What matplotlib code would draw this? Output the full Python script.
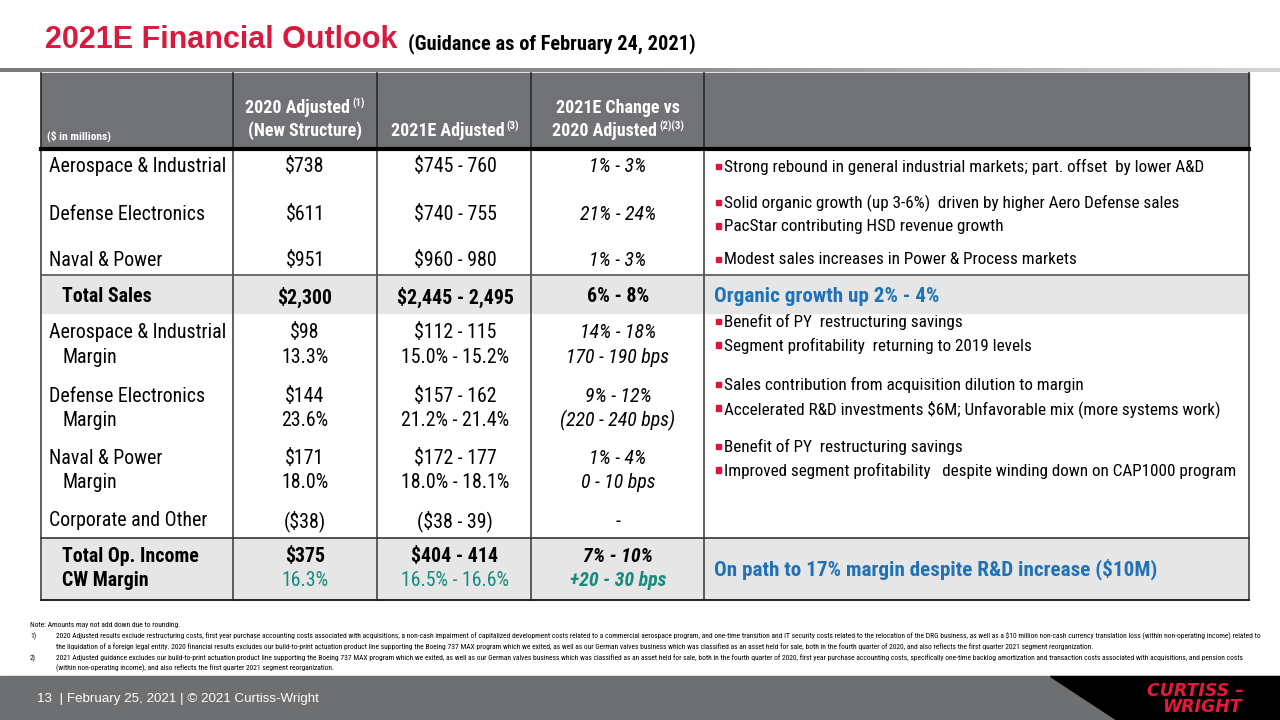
import matplotlib
matplotlib.use("Agg")
import matplotlib.pyplot as plt
from matplotlib.patches import Rectangle, Polygon
import numpy as np

NARROW = ['Roboto Condensed', 'Liberation Sans', 'DejaVu Sans']
ARIAL = ['Liberation Sans', 'DejaVu Sans']
plt.rcParams['font.family'] = NARROW

# Datos de la tabla
title = "2021E Financial Outlook"
subtitle = "(Guidance as of February 24, 2021)"

seg_names = ["Aerospace & Industrial", "Defense Electronics", "Naval & Power"]
sales_2020 = ["$738", "$611", "$951"]
sales_2021 = ["$745 - 760", "$740 - 755", "$960 - 980"]
sales_chg = ["1% - 3%", "21% - 24%", "1% - 3%"]
sales_notes = [["Strong rebound in general industrial markets; part. offset  by lower A&D"],
               ["Solid organic growth (up 3-6%)  driven by higher Aero Defense sales",
                "PacStar contributing HSD revenue growth"],
               ["Modest sales increases in Power & Process markets"]]

total_sales = ["Total Sales", "$2,300", "$2,445 - 2,495", "6% - 8%"]
total_sales_note = "Organic growth up 2% - 4%"

op_2020 = ["$98", "$144", "$171"]
op_2021 = ["$112 - 115", "$157 - 162", "$172 - 177"]
op_chg = ["14% - 18%", "9% - 12%", "1% - 4%"]
mrg_2020 = ["13.3%", "23.6%", "18.0%"]
mrg_2021 = ["15.0% - 15.2%", "21.2% - 21.4%", "18.0% - 18.1%"]
mrg_chg = ["170 - 190 bps", "(220 - 240 bps)", "0 - 10 bps"]
op_notes = [["Benefit of PY  restructuring savings",
             "Segment profitability  returning to 2019 levels"],
            ["Sales contribution from acquisition dilution to margin",
             "Accelerated R&D investments $6M; Unfavorable mix (more systems work)"],
            ["Benefit of PY  restructuring savings",
             "Improved segment profitability   despite winding down on CAP1000 program"]]

corporate = ["Corporate and Other", "($38)", "($38 - 39)", "-"]
total_op = ["Total Op. Income", "$375", "$404 - 414", "7% - 10%"]
cw_margin = ["CW Margin", "16.3%", "16.5% - 16.6%", "+20 - 30 bps"]
total_op_note = "On path to 17% margin despite R&D increase ($10M)"

footnotes = [
    ("", "Note: Amounts may not add down due to rounding."),
    ("1)", "2020 Adjusted results exclude restructuring costs, first year purchase accounting costs associated with acquisitions, a non-cash impairment of capitalized development costs related to a commercial aerospace program, and one-time transition and IT security costs related to the relocation of the DRG business, as well as a $10 million non-cash currency translation loss (within non-operating income) related to"),
    ("", "the liquidation of a foreign legal entity. 2020 financial results excludes our build-to-print actuation product line supporting the Boeing 737 MAX program which we exited, as well as our German valves business which was classified as an asset held for sale, both in the fourth quarter of 2020, and also reflects the first quarter 2021 segment reorganization."),
    ("2)", "2021 Adjusted guidance excludes our build-to-print actuation product line supporting the Boeing 737 MAX program which we exited, as well as our German valves business which was classified as an asset held for sale, both in the fourth quarter of 2020, first year purchase accounting costs, specifically one-time backlog amortization and transaction costs associated with acquisitions, and pension costs"),
    ("", "(within non-operating income), and also reflects the first quarter 2021 segment reorganization."),
]
footer = "13  | February 25, 2021 | \u00a9 2021 Curtiss-Wright"

# Colores
RED = "#d71a3e"
HDR = "#717275"
LIGHT = "#e6e6e6"
BLUE = "#1f72b8"
TEAL = "#178a7c"

fig = plt.figure(figsize=(12.8, 7.2), dpi=100)
ax = fig.add_axes([0, 0, 1, 1])
ax.set_xlim(0, 1280)
ax.set_ylim(720, 0)
ax.axis("off")
renderer = fig.canvas.get_renderer()


def width(t):
    return t.get_window_extent(renderer).width


def fit(s, target, **kw):
    # tamaño de letra para que el texto ocupe el ancho medido en la diapositiva
    t = ax.text(0, 0, s, fontsize=10, parse_math=False, **kw)
    w = width(t)
    t.remove()
    return 10 * target / w


FS = fit("Aerospace & Industrial", 176)
FSB = fit(sales_notes[0][0], 479)
FSH = fit("(New Structure)", 114, fontweight="bold")
FSN = fit(total_sales_note, 226, fontweight="bold")
FSF = fit(footnotes[1][1], 1206)


def txt(x, y, s, **kw):
    kw.setdefault("fontsize", FS)
    kw.setdefault("va", "center")
    return ax.text(x, y, s, parse_math=False, **kw)


def with_sup(xc, y, main, sup, **kw):
    t1 = txt(0, y, main, ha="left", **kw)
    t2 = txt(0, y - 5, sup, ha="left", **dict(kw, fontsize=kw["fontsize"] * 0.6))
    w1, w2 = width(t1), width(t2)
    x0 = xc - (w1 + w2 + 2) / 2
    t1.set_x(x0)
    t2.set_x(x0 + w1 + 2)


# Titulo
t = txt(45, 48, title, fontsize=fit(title, 352, fontweight="bold", family=ARIAL),
        fontweight="bold", color=RED, ha="left", va="baseline", family=ARIAL)
txt(408, 49, subtitle, fontsize=fit(subtitle, 287, fontweight="bold"), fontweight="bold",
    color="black", ha="left", va="baseline")

# Linea gris con degradado
grad = np.linspace(0, 1, 256).reshape(1, -1)
ax.imshow(grad, extent=(0, 1280, 72, 68), cmap=matplotlib.colors.LinearSegmentedColormap.from_list(
    "g", ["#7a7a7a", "#8a8a8a", "#d5d5d5"]), aspect="auto", zorder=1)
ax.set_xlim(0, 1280)
ax.set_ylim(720, 0)

L, R = 41, 1249
cols = [L, 233, 377, 531, 704, R]
c1, c2, c3, cn = 305, 455, 618, 716

# Cabecera y fondos
ax.add_patch(Rectangle((L, 73), R - L, 76, color=HDR, zorder=1))
ax.add_patch(Rectangle((L, 275), R - L, 38, color=LIGHT, zorder=1))
ax.add_patch(Rectangle((L, 538), R - L, 62, color=LIGHT, zorder=1))
for x in cols:
    ax.plot([x, x], [73, 149], color="#2a2a2a", lw=1.2, zorder=2)
    ax.plot([x, x], [149, 600], color="#444444", lw=1.2, zorder=2)
ax.plot([L, R], [149, 149], color="black", lw=3, zorder=3)
ax.plot([L, R], [275, 275], color="#555555", lw=1.2, zorder=3)
ax.plot([L, R], [538, 538], color="#333333", lw=1.2, zorder=3)
ax.plot([L, R], [600, 600], color="#222222", lw=1.4, zorder=3)

hw = dict(color="white", fontweight="bold", fontsize=FSH)
txt(47, 136, "($ in millions)", ha="left", **dict(hw, fontsize=fit("($ in millions)", 62)))
with_sup(c1, 108, "2020 Adjusted", "(1)", **hw)
txt(c1, 131, "(New Structure)", ha="center", **hw)
with_sup(c2, 131, "2021E Adjusted", "(3)", **hw)
txt(c3, 108, "2021E Change vs", ha="center", **hw)
with_sup(c3, 131, "2020 Adjusted", "(2)(3)", **hw)


def notes(y, lines, gap=23.5):
    n = len(lines)
    for i, s in enumerate(lines):
        yy = y + (i - (n - 1) / 2) * gap
        ax.add_patch(Rectangle((cn, yy - 3.5), 5, 5.5, color="#e0143c", zorder=4))
        txt(cn + 8, yy, s, fontsize=FSB, ha="left")


# Ventas por segmento
sales_y = [167, 215, 260]
for i, y in enumerate(sales_y):
    txt(49, y, seg_names[i], ha="left")
    txt(c1, y, sales_2020[i], ha="center")
    txt(c2, y, sales_2021[i], ha="center")
    txt(c3, y, sales_chg[i], ha="center", style="italic")
    notes(y, sales_notes[i])

y = 297
txt(62, y, total_sales[0], ha="left", fontweight="bold")
txt(c1, y, total_sales[1], ha="center", fontweight="bold")
txt(c2, y, total_sales[2], ha="center", fontweight="bold")
txt(c3, y, total_sales[3], ha="center", fontweight="bold")
txt(cn - 2, y, total_sales_note, ha="left", fontweight="bold", color=BLUE, fontsize=FSN)

# Resultado operativo
op_y = [333, 396, 458]
for i, y in enumerate(op_y):
    y2 = y + 24.5
    txt(49, y, seg_names[i], ha="left")
    txt(62, y2, "Margin", ha="left")
    txt(c1, y, op_2020[i], ha="center")
    txt(c1, y2, mrg_2020[i], ha="center")
    txt(c2, y, op_2021[i], ha="center")
    txt(c2, y2, mrg_2021[i], ha="center")
    txt(c3, y, op_chg[i], ha="center", style="italic")
    txt(c3, y2, mrg_chg[i], ha="center", style="italic")
    notes(y + 1, op_notes[i])

y = 521
txt(49, y, corporate[0], ha="left")
txt(c1, y, corporate[1], ha="center")
txt(c2, y, corporate[2], ha="center")
txt(c3, y, corporate[3], ha="center")

y, y2 = 557, 581
txt(62, y, total_op[0], ha="left", fontweight="bold")
txt(c1, y, total_op[1], ha="center", fontweight="bold")
txt(c2, y, total_op[2], ha="center", fontweight="bold")
txt(c3, y, total_op[3], ha="center", fontweight="bold", style="italic")
txt(62, y2, cw_margin[0], ha="left", fontweight="bold")
txt(c1, y2, cw_margin[1], ha="center", color=TEAL)
txt(c2, y2, cw_margin[2], ha="center", color=TEAL)
txt(c3, y2, cw_margin[3], ha="center", fontweight="bold", style="italic", color=TEAL)
txt(cn - 2, 569, total_op_note, ha="left", fontweight="bold", color=BLUE, fontsize=FSN)

# Notas al pie
fy = [625, 636, 647, 658, 668]
for (num, s), yy in zip(footnotes, fy):
    if num:
        txt(30, yy, num, fontsize=FSF, ha="left")
    x0 = 30 if s.startswith("Note") else 56
    txt(x0, yy, s, fontsize=FSF, ha="left")

# Pie de pagina
ax.add_patch(Rectangle((0, 676), 1280, 44, color="#6e6f71", zorder=1))
ax.add_patch(Polygon([(1050, 676), (1280, 676), (1280, 720), (1117, 720)], closed=True,
                     color="black", zorder=2))
txt(37, 699, footer, fontsize=fit(footer, 282, family=ARIAL), ha="left", color="white", family=ARIAL)
logo = dict(fontsize=12.5, color="#e8173c", fontweight="bold", style="italic",
            family=["DejaVu Sans"], zorder=3)
txt(1244, 696, "CURTISS \u2013", ha="right", va="baseline", **logo)
txt(1242, 712, "WRIGHT", ha="right", va="baseline", **logo)

fig.savefig("out.png", dpi=100)
